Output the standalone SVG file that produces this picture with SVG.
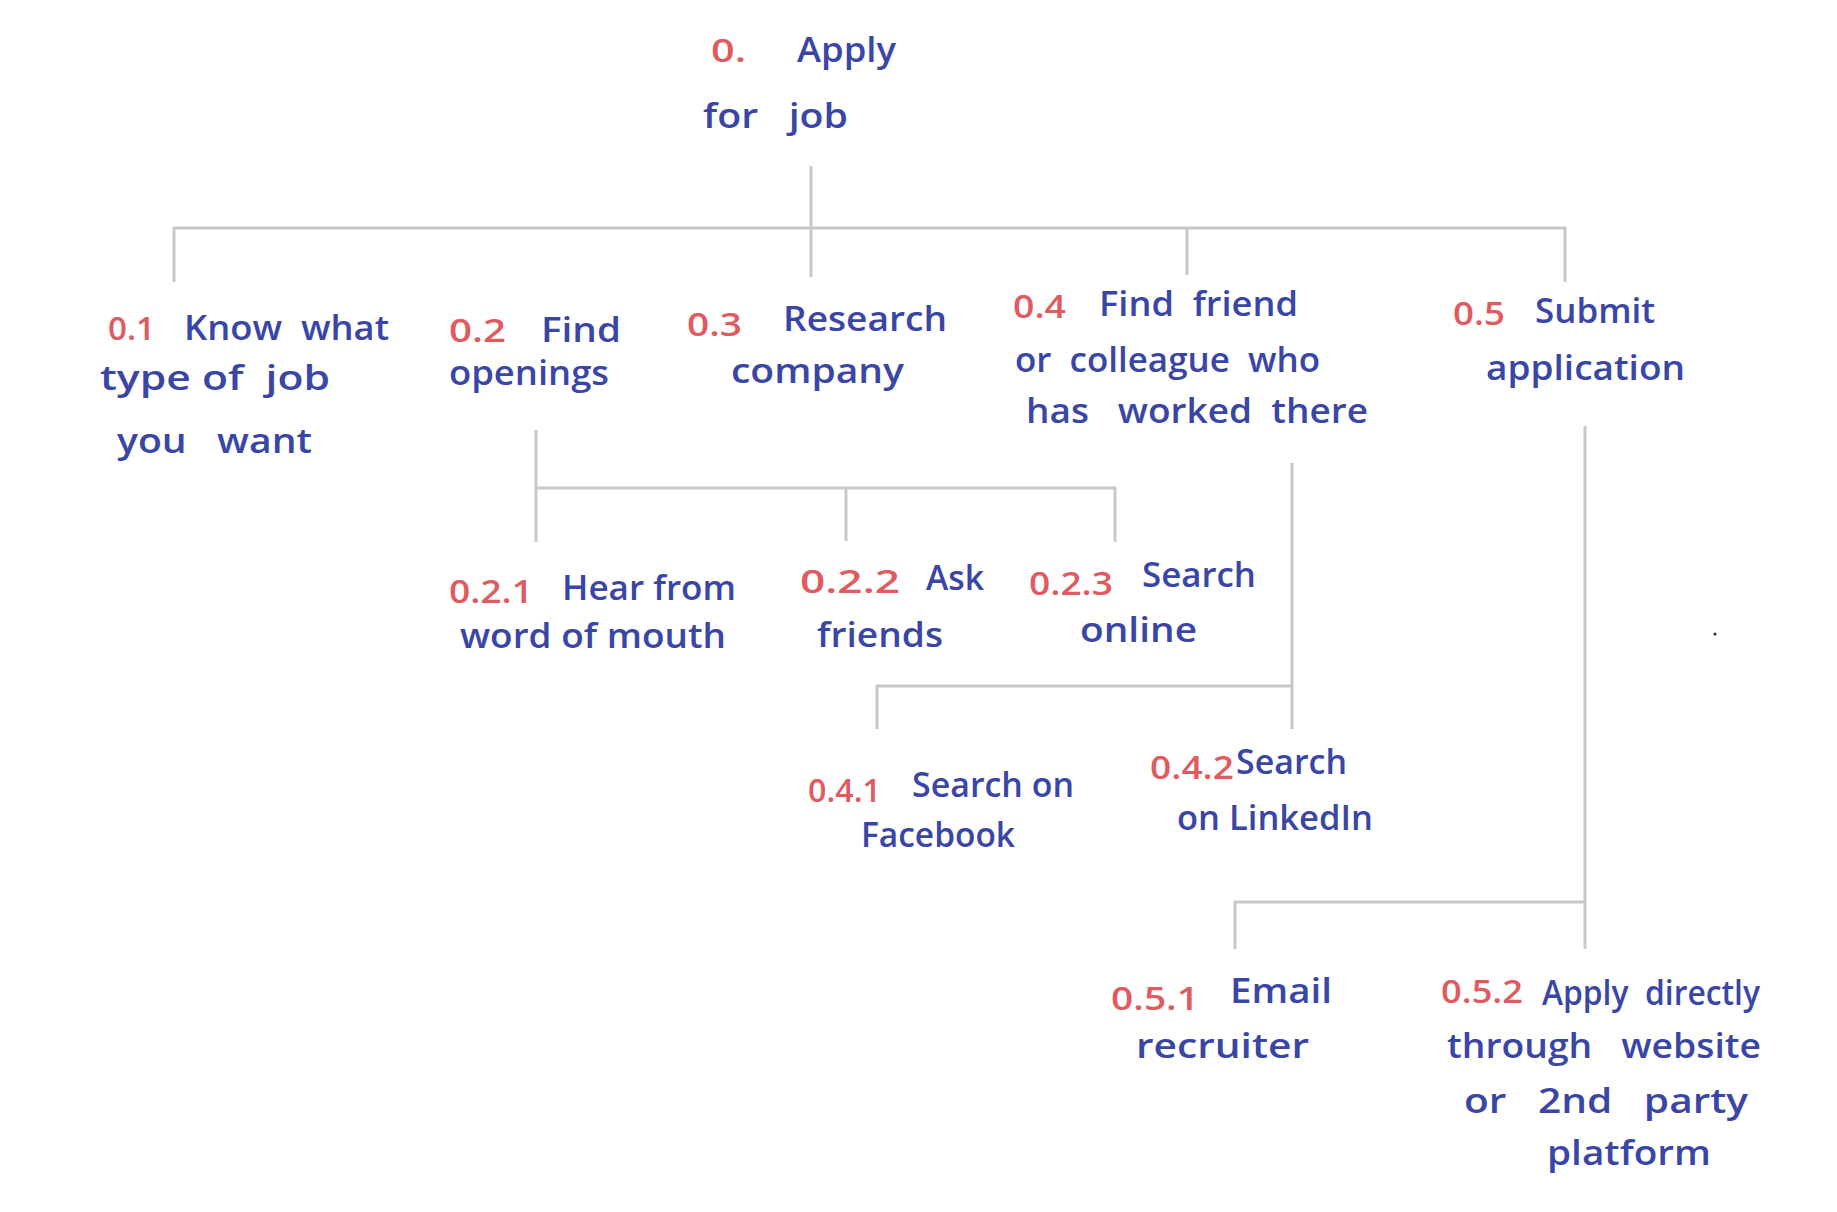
<svg xmlns="http://www.w3.org/2000/svg" width="1837" height="1212" viewBox="0 0 1837 1212">
<style>
  text { font-family: "Open Sans", "Noto Sans", "DejaVu Sans", sans-serif; font-size: 34px; font-weight: 600; white-space: pre; }
  .num { fill: #e05a60; font-size: 32px; }
  .lbl { fill: #3a46a6; }
  .conn line { stroke: #c8c8c8; stroke-width: 3; stroke-linecap: butt; }
</style>
<rect width="1837" height="1212" fill="#ffffff"/>
<g id="connectors" class="conn">
  <line x1="811" y1="166" x2="811" y2="277"/>
  <line x1="173" y1="228" x2="1566" y2="228"/>
  <line x1="174" y1="227" x2="174" y2="282"/>
  <line x1="1187" y1="228" x2="1187" y2="275"/>
  <line x1="1565" y1="227" x2="1565" y2="282"/>
  <line x1="536" y1="430" x2="536" y2="542"/>
  <line x1="536" y1="488" x2="1116" y2="488"/>
  <line x1="846" y1="488" x2="846" y2="541"/>
  <line x1="1115" y1="487" x2="1115" y2="542"/>
  <line x1="1292" y1="463" x2="1292" y2="729"/>
  <line x1="876" y1="686" x2="1292" y2="686"/>
  <line x1="877" y1="685" x2="877" y2="729"/>
  <line x1="1585" y1="426" x2="1585" y2="949"/>
  <line x1="1234" y1="902" x2="1585" y2="902"/>
  <line x1="1235" y1="901" x2="1235" y2="949"/>
</g>
<g id="n0">
  <text class="num" x="711" y="62" textLength="35" lengthAdjust="spacingAndGlyphs">0.</text>
  <text class="lbl" x="797" y="62" textLength="99" lengthAdjust="spacingAndGlyphs">Apply</text>
  <text class="lbl" x="703" y="128" xml:space="preserve" textLength="145" lengthAdjust="spacingAndGlyphs">for   job</text>
</g>
<g id="n01">
  <text class="num" x="108" y="340" textLength="47" lengthAdjust="spacingAndGlyphs">0.1</text>
  <text class="lbl" x="184" y="340" xml:space="preserve" textLength="205" lengthAdjust="spacingAndGlyphs">Know  what</text>
  <text class="lbl" x="100" y="390" xml:space="preserve" textLength="230" lengthAdjust="spacingAndGlyphs">type of  job</text>
  <text class="lbl" x="117" y="453" xml:space="preserve" textLength="195" lengthAdjust="spacingAndGlyphs">you   want</text>
</g>
<g id="n02">
  <text class="num" x="449" y="342" textLength="57" lengthAdjust="spacingAndGlyphs">0.2</text>
  <text class="lbl" x="541" y="342" textLength="80" lengthAdjust="spacingAndGlyphs">Find</text>
  <text class="lbl" x="449" y="385" textLength="160" lengthAdjust="spacingAndGlyphs">openings</text>
</g>
<g id="n03">
  <text class="num" x="687" y="336" textLength="55" lengthAdjust="spacingAndGlyphs">0.3</text>
  <text class="lbl" x="783" y="331" textLength="164" lengthAdjust="spacingAndGlyphs">Research</text>
  <text class="lbl" x="731" y="383" textLength="173" lengthAdjust="spacingAndGlyphs">company</text>
</g>
<g id="n04">
  <text class="num" x="1013" y="318" textLength="53" lengthAdjust="spacingAndGlyphs">0.4</text>
  <text class="lbl" x="1099" y="316" xml:space="preserve" textLength="199" lengthAdjust="spacingAndGlyphs">Find  friend</text>
  <text class="lbl" x="1015" y="372" xml:space="preserve" textLength="305" lengthAdjust="spacingAndGlyphs">or  colleague  who</text>
  <text class="lbl" x="1026" y="423" xml:space="preserve" textLength="342" lengthAdjust="spacingAndGlyphs">has   worked  there</text>
</g>
<g id="n05">
  <text class="num" x="1453" y="325" textLength="52" lengthAdjust="spacingAndGlyphs">0.5</text>
  <text class="lbl" x="1535" y="323" textLength="120" lengthAdjust="spacingAndGlyphs">Submit</text>
  <text class="lbl" x="1486" y="380" textLength="199" lengthAdjust="spacingAndGlyphs">application</text>
</g>
<g id="n021">
  <text class="num" x="449" y="603" textLength="84" lengthAdjust="spacingAndGlyphs">0.2.1</text>
  <text class="lbl" x="562" y="600" textLength="174" lengthAdjust="spacingAndGlyphs">Hear from</text>
  <text class="lbl" x="460" y="648" textLength="266" lengthAdjust="spacingAndGlyphs">word of mouth</text>
</g>
<g id="n022">
  <text class="num" x="800" y="593" textLength="100" lengthAdjust="spacingAndGlyphs">0.2.2</text>
  <text class="lbl" x="926" y="590" textLength="58" lengthAdjust="spacingAndGlyphs">Ask</text>
  <text class="lbl" x="817" y="647" textLength="126" lengthAdjust="spacingAndGlyphs">friends</text>
</g>
<g id="n023">
  <text class="num" x="1029" y="595" textLength="84" lengthAdjust="spacingAndGlyphs">0.2.3</text>
  <text class="lbl" x="1142" y="587" textLength="114" lengthAdjust="spacingAndGlyphs">Search</text>
  <text class="lbl" x="1080" y="642" textLength="117" lengthAdjust="spacingAndGlyphs">online</text>
</g>
<g id="n041">
  <text class="num" x="808" y="802" textLength="73" lengthAdjust="spacingAndGlyphs">0.4.1</text>
  <text class="lbl" x="912" y="797" textLength="162" lengthAdjust="spacingAndGlyphs">Search on</text>
  <text class="lbl" x="861" y="847" textLength="154" lengthAdjust="spacingAndGlyphs">Facebook</text>
</g>
<g id="n042">
  <text class="num" x="1150" y="779" textLength="84" lengthAdjust="spacingAndGlyphs">0.4.2</text>
  <text class="lbl" x="1236" y="774" textLength="111" lengthAdjust="spacingAndGlyphs">Search</text>
  <text class="lbl" x="1177" y="830" textLength="196" lengthAdjust="spacingAndGlyphs">on LinkedIn</text>
</g>
<g id="n051">
  <text class="num" x="1111" y="1010" textLength="88" lengthAdjust="spacingAndGlyphs">0.5.1</text>
  <text class="lbl" x="1230" y="1003" textLength="102" lengthAdjust="spacingAndGlyphs">Email</text>
  <text class="lbl" x="1136" y="1058" textLength="173" lengthAdjust="spacingAndGlyphs">recruiter</text>
</g>
<g id="n052">
  <text class="num" x="1441" y="1003" textLength="82" lengthAdjust="spacingAndGlyphs">0.5.2</text>
  <text class="lbl" x="1542" y="1005" xml:space="preserve" textLength="218" lengthAdjust="spacingAndGlyphs">Apply  directly</text>
  <text class="lbl" x="1447" y="1058" xml:space="preserve" textLength="314" lengthAdjust="spacingAndGlyphs">through   website</text>
  <text class="lbl" x="1464" y="1113" xml:space="preserve" textLength="284" lengthAdjust="spacingAndGlyphs">or   2nd   party</text>
  <text class="lbl" x="1547" y="1165" textLength="164" lengthAdjust="spacingAndGlyphs">platform</text>
</g>
<circle cx="1715" cy="634" r="1.6" fill="#333333"/>
</svg>
